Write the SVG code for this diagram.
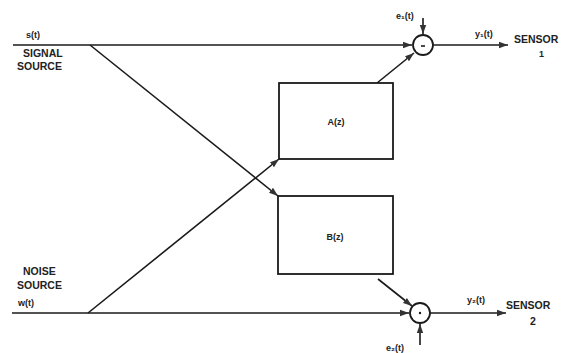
<svg xmlns="http://www.w3.org/2000/svg" width="577" height="353" viewBox="0 0 577 353">
<style>
.ln{stroke:#1a1a1a;stroke-width:1.6;fill:none}
.bx{stroke:#1a1a1a;stroke-width:1.8;fill:#fff}
.sum{stroke:#1a1a1a;stroke-width:1.8;fill:#fff}
.t{font-family:"Liberation Sans",Arial,sans-serif;font-size:10.5px;font-weight:bold;fill:#222}
.s{font-family:"Liberation Sans",Arial,sans-serif;font-size:9px;font-weight:bold;fill:#222}
</style>
<defs>
<marker id="ah" markerUnits="userSpaceOnUse" markerWidth="10" markerHeight="8" refX="9" refY="4" orient="auto">
<path d="M0,0.8 L9,4 L0,7.2 Z" fill="#333"/>
</marker>
</defs>
<rect width="577" height="353" fill="#fff"/>
<g id="connectors">
<line class="ln" x1="13" y1="45" x2="412" y2="45" marker-end="url(#ah)"/>
<line class="ln" x1="423" y1="18" x2="423" y2="34" marker-end="url(#ah)"/>
<line class="ln" x1="377" y1="83" x2="414" y2="53" marker-end="url(#ah)"/>
<line class="ln" x1="433" y1="45" x2="508" y2="45" marker-end="url(#ah)"/>
<line class="ln" x1="12" y1="313" x2="409" y2="313" marker-end="url(#ah)"/>
<line class="ln" x1="378" y1="279" x2="412" y2="306" marker-end="url(#ah)"/>
<line class="ln" x1="420" y1="345" x2="420" y2="324" marker-end="url(#ah)"/>
<line class="ln" x1="430" y1="313" x2="506" y2="313" marker-end="url(#ah)"/>
<line class="ln" x1="90" y1="45" x2="278" y2="196" marker-end="url(#ah)"/>
<line class="ln" x1="88" y1="313" x2="279" y2="159" marker-end="url(#ah)"/>
</g>
<g id="signal-source">
<text class="s" x="26" y="38">s(t)</text>
<text class="t" x="23" y="57">SIGNAL</text>
<text class="t" x="17" y="70">SOURCE</text>
</g>
<g id="noise-source">
<text class="t" x="23" y="275">NOISE</text>
<text class="t" x="17" y="289">SOURCE</text>
<text class="s" x="18" y="306">w(t)</text>
</g>
<g id="A">
<rect class="bx" x="279" y="83" width="114" height="76"/>
<text class="s" x="336" y="125" text-anchor="middle">A(z)</text>
</g>
<g id="B">
<rect class="bx" x="278" y="196" width="115" height="78"/>
<text class="s" x="335" y="240" text-anchor="middle">B(z)</text>
</g>
<g id="sum1">
<circle class="sum" cx="423" cy="45" r="10"/>
<line x1="421" y1="46" x2="425" y2="46" stroke="#1a1a1a" stroke-width="1.6"/>
<text class="s" x="396" y="19">e₁(t)</text>
<text class="s" x="475" y="37">y₁(t)</text>
</g>
<g id="sensor1">
<text class="t" x="514" y="43">SENSOR</text>
<text class="s" x="539" y="57">1</text>
</g>
<g id="sum2">
<circle class="sum" cx="420" cy="313" r="10"/>
<circle cx="420" cy="313" r="1.2" fill="#1a1a1a"/>
<text class="s" x="386" y="351">e₂(t)</text>
<text class="s" x="467" y="303">y₂(t)</text>
</g>
<g id="sensor2">
<text class="t" x="506" y="309">SENSOR</text>
<text class="t" x="530" y="325">2</text>
</g>
</svg>
